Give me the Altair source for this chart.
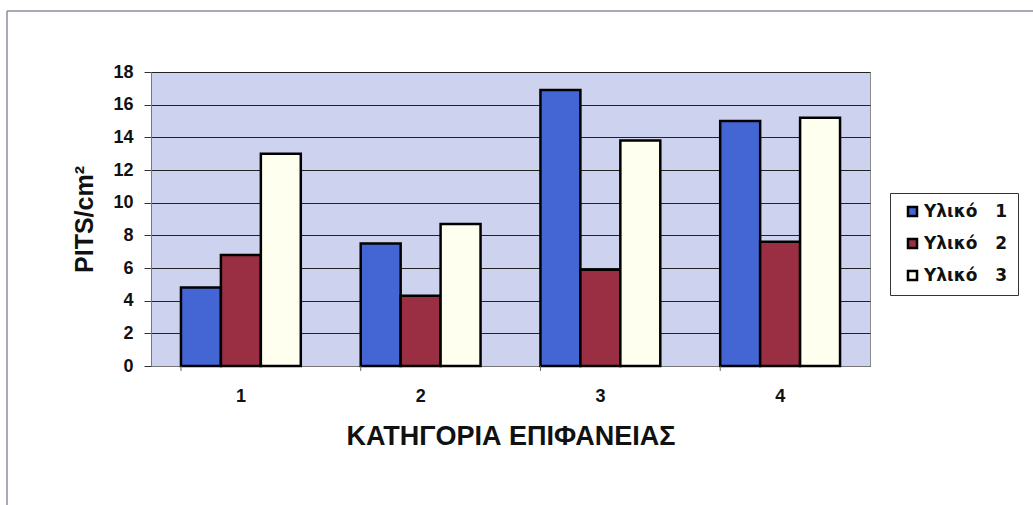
import altair as alt
import pandas as pd

# Surface categories and pit density per material
categories = ["1", "2", "3", "4"]
materials = ["Υλικό\u00a0\u00a0 1", "Υλικό\u00a0\u00a0 2", "Υλικό\u00a0\u00a0 3"]
material_1 = [4.8, 7.5, 16.9, 15.0]
material_2 = [6.8, 4.3, 5.9, 7.6]
material_3 = [13.0, 8.7, 13.8, 15.2]
colors = ["#4466D4", "#9A2F44", "#FFFFF0"]
y_ticks = [0, 2, 4, 6, 8, 10, 12, 14, 16, 18]

rows = []
for series, values in zip(materials, [material_1, material_2, material_3]):
    for cat, v in zip(categories, values):
        rows.append({"cat": cat, "material": series, "value": v})
df = pd.DataFrame(rows)

FONT = "Liberation Sans"
W, H = 719, 294
LEFT, TOP = 151, 72

x_enc = alt.X(
    "cat:N",
    sort=categories,
    scale=alt.Scale(paddingInner=1 / 3, paddingOuter=1 / 6),
    axis=alt.Axis(
        title="ΚΑΤΗΓΟΡΙΑ ΕΠΙΦΑΝΕΙΑΣ",
        labelAngle=0,
        ticks=False,
        labelPadding=21,
        labelFontSize=18,
        labelFont=FONT,
        labelFontWeight="bold",
        labelColor="#111",
        titleFont=FONT,
        titleFontSize=27,
        titleFontWeight="bold",
        titleColor="#111",
        titlePadding=18,
        domainColor="#777",
    ),
)

bars = alt.Chart(df).mark_bar(stroke="black", strokeWidth=2.5).encode(
    x=x_enc,
    xOffset=alt.XOffset("material:N", sort=materials),
    y=alt.Y(
        "value:Q",
        scale=alt.Scale(domain=[0, 18], nice=False),
        axis=alt.Axis(
            title="PITS/cm²",
            values=y_ticks,
            grid=True,
            gridColor="#222",
            gridWidth=1,
            tickColor="#333",
            tickSize=7,
            labelPadding=11,
            labelFontSize=18,
            labelFont=FONT,
            labelFontWeight="bold",
            labelColor="#111",
            titleFont=FONT,
            titleFontSize=25,
            titleFontWeight="bold",
            titleColor="#111",
            titlePadding=15,
            domainColor="#777",
        ),
    ),
    color=alt.Color(
        "material:N",
        sort=materials,
        scale=alt.Scale(domain=materials, range=colors),
        legend=alt.Legend(
            title=None,
            orient="none",
            legendX=739,
            legendY=121,
            symbolType="square",
            symbolSize=81,
            symbolStrokeColor="black",
            symbolStrokeWidth=2.5,
            symbolOpacity=1,
            symbolOffset=4,
            labelFont="DejaVu Sans",
            labelFontSize=17,
            labelFontWeight="bold",
            labelColor="#111",
            labelOffset=3,
            rowPadding=13,
            padding=10,
            strokeColor="#333",
            fillColor="white",
        ),
    ),
)

# Small boundary ticks between surface categories
edge_ticks = alt.Chart(pd.DataFrame({"cat": categories})).mark_rule(
    color="#666", strokeWidth=1
).encode(
    x=alt.X("cat:N", sort=categories, bandPosition=0),
    y=alt.value(H),
    y2=alt.value(H + 5),
)

# Outer frame of the figure (top and left edges)
frame_top = alt.Chart(pd.DataFrame({"k": [0]})).mark_rule(color="#8A8F9C", strokeWidth=1.5).encode(
    x=alt.value(7 - LEFT), x2=alt.value(1040 - LEFT), y=alt.value(11 - TOP)
)
frame_left = alt.Chart(pd.DataFrame({"k": [0]})).mark_rule(color="#8A8F9C", strokeWidth=1.5).encode(
    x=alt.value(7 - LEFT), y=alt.value(11 - TOP), y2=alt.value(510 - TOP)
)

chart = (
    alt.layer(bars, edge_ticks, frame_top, frame_left)
    .properties(
        width=W,
        height=H,
        autosize=alt.AutoSizeParams(type="none"),
        padding={"left": LEFT, "top": TOP, "right": 1033 - LEFT - W, "bottom": 505 - TOP - H},
        background="white",
    )
    .configure_view(fill="#CDD3EF", stroke="#8C8C8C", strokeWidth=1)
)

chart.save("out.html", embed_options={"renderer": "svg", "actions": False})
